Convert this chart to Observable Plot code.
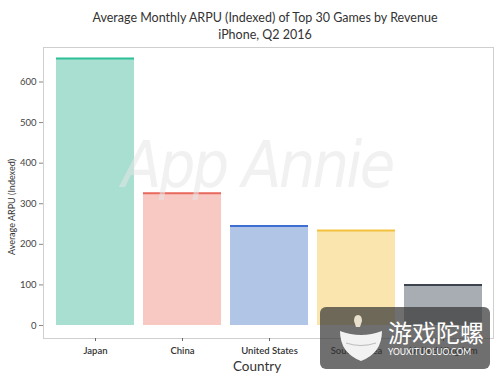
<!DOCTYPE html>
<html><head><meta charset="utf-8">
<script src="https://cdn.jsdelivr.net/npm/d3@7"></script>
<script src="https://cdn.jsdelivr.net/npm/@observablehq/plot@0.6"></script>
<style>
body{margin:0;background:#fff;font-family:Lato,"Open Sans",sans-serif;}
#wrap{position:relative;width:500px;height:379px;overflow:hidden;}
.t{position:absolute;left:0;width:530px;text-align:center;color:#333;font-size:12.5px;}
#wm{position:absolute;left:122px;top:128px;font-size:64px;font-style:italic;color:#e6e6e6;opacity:0.55;font-family:"DejaVu Sans",sans-serif;letter-spacing:-3px;transform:scaleX(0.9);transform-origin:left;pointer-events:none;}
#box{position:absolute;left:320px;top:307px;width:170px;height:62px;background:rgba(55,55,55,0.72);border-radius:6px;}
#box .cn{position:absolute;left:68px;top:12px;font-size:24px;color:#fff;font-family:"Noto Sans CJK SC",sans-serif;line-height:26px;}
#box .en{position:absolute;left:68px;top:40px;font-size:8.5px;color:#fff;line-height:10px;}
#box svg{position:absolute;left:18px;top:6px;}
</style></head>
<body><div id="wrap">
<div class="t" style="top:10px">Average Monthly ARPU (Indexed) of Top 30 Games by Revenue</div>
<div class="t" style="top:27px">iPhone, Q2 2016</div>
<div id="chart"></div>
<div id="wm">App Annie</div>
<div id="box">
<svg width="46" height="52" viewBox="0 0 46 52"><path d="M20 2 q4 0 4 6 l-2 6 h-4 l-2 -6 q0 -6 4 -6z" fill="#e8e0cc"/><path d="M2 18 q21 8 42 0 q0 22 -21 30 q-21 -8 -21 -30z" fill="#f2f2f2"/><path d="M8 30 q15 5 30 0" stroke="#bbb" fill="none"/></svg>
<div class="cn">游戏陀螺</div>
<div class="en">YOUXITUOLUO.COM</div>
</div>
</div>
<script>
const countries = ["Japan", "China", "United States", "South Korea", "United Kingdom"];
const arpu = [658, 326, 245, 234, 100];
const fills = ["#a9dfd0", "#f8c9c3", "#b1c5e7", "#f9e5ad", "#a8adb4"];
const strokes = ["#2fbf98", "#e86a5e", "#3d6fd2", "#f2c23e", "#3d4450"];
const yTicks = [0, 100, 200, 300, 400, 500, 600];

const data = countries.map((c, i) => ({country: c, value: arpu[i], fill: fills[i], stroke: strokes[i]}));

const chart = Plot.plot({
  width: 500,
  height: 379,
  marginTop: 47,
  marginBottom: 41,
  marginLeft: 43,
  marginRight: 7,
  style: {fontFamily: "Lato, 'Open Sans', sans-serif", fontSize: "9px", color: "#444", background: "transparent"},
  x: {domain: countries, padding: 0.1, insetLeft: 4, insetRight: 2, label: null, axis: null},
  y: {domain: [0, 685], insetBottom: 13, label: null, axis: null},
  marks: [
    Plot.frame({stroke: "#cfcfcf", strokeWidth: 1}),
    Plot.barY(data, {x: "country", y: "value", fill: "fill"}),
    Plot.gridY(yTicks, {stroke: "#999", strokeOpacity: 0.4, x1: 43, x2: 493}),
    Plot.tickY(data, {x: "country", y: "value", stroke: "stroke", strokeWidth: 2}),
    Plot.axisY(yTicks, {tickSize: 4, tickPadding: 3, stroke: "#888", fill: "#444", fontSize: 9.5, label: null}),
    Plot.axisX({tickSize: 3, tickPadding: 6, stroke: "#666", fill: "#333", fontSize: 9.5, fontWeight: 600, label: null})
  ]
});
document.getElementById("chart").appendChild(chart);

const svg = d3.select(chart);
svg.append("text").attr("x", 257).attr("y", 371).attr("text-anchor", "middle")
  .attr("font-size", 13.5).attr("fill", "#333").text("Country");
svg.append("text").attr("transform", "translate(15,207) rotate(-90)").attr("text-anchor", "middle")
  .attr("font-size", 9).attr("fill", "#333").text("Average ARPU (Indexed)");
</script>
</body></html>
